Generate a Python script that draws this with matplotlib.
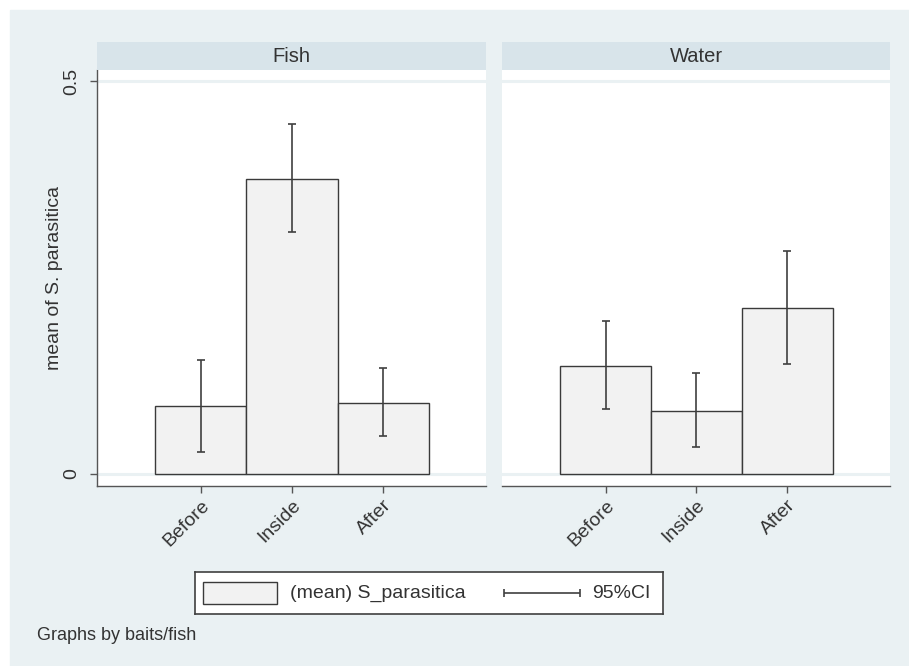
import matplotlib.pyplot as plt
from matplotlib.patches import Rectangle

plt.rcParams["font.family"] = ["Liberation Sans", "DejaVu Sans"]

# data
panels = ["Fish", "Water"]
periods = ["Before", "Inside", "After"]
fish_mean = [0.086, 0.375, 0.090]
fish_lo = [0.028, 0.308, 0.048]
fish_hi = [0.145, 0.445, 0.135]
water_mean = [0.137, 0.080, 0.211]
water_lo = [0.083, 0.034, 0.140]
water_hi = [0.195, 0.128, 0.284]

bg = "#eaf1f3"
strip_col = "#d8e4ea"
ink = "#333333"
W, H = 909, 666

fig = plt.figure(figsize=(W / 100, H / 100), dpi=100, facecolor="white")
fig.patches.append(Rectangle((10 / W, 0), 1 - 10 / W, 1 - 10 / H,
                             transform=fig.transFigure, color=bg, zorder=-10))


def fx(px):
    return px / W


def fy(px):
    return 1 - px / H


panel_x = [(97, 486), (502, 890)]
data = [(fish_mean, fish_lo, fish_hi), (water_mean, water_lo, water_hi)]

for k, name in enumerate(panels):
    x0, x1 = panel_x[k]
    ax = fig.add_axes([fx(x0), fy(486), fx(x1 - x0), fy(70) - fy(486)])
    ax.set_facecolor("white")
    mean, lo, hi = data[k]
    xs = list(range(1, len(periods) + 1))
    for y in (0, 0.5):
        ax.axhline(y, color=bg, lw=2.2, zorder=1)
    ax.bar(xs, mean, width=1.0, color="#f2f2f2", edgecolor="#3a3a3a",
           linewidth=1.0, zorder=2)
    yerr = [[m - l for m, l in zip(mean, lo)], [h - m for m, h in zip(mean, hi)]]
    ax.errorbar(xs, mean, yerr=yerr, fmt="none", ecolor="#404040",
                elinewidth=1.2, capsize=3.2, capthick=1.2, zorder=3)
    ax.set_xlim(-0.14, 4.13)
    ax.set_ylim(-0.0153, 0.514)
    ax.set_xticks(xs)
    ax.set_xticklabels(periods, rotation=45, ha="right", rotation_mode="anchor",
                       fontsize=14, color=ink)
    for s in ("top", "right"):
        ax.spines[s].set_visible(False)
    ax.spines["bottom"].set_color("#555555")
    ax.spines["bottom"].set_linewidth(1.0)
    ax.tick_params(axis="x", length=5, color="#555555", width=1.0, pad=3)
    if k == 0:
        ax.spines["left"].set_color("#555555")
        ax.spines["left"].set_linewidth(1.0)
        ax.set_yticks([0, 0.5])
        ax.set_yticklabels(["0", "0.5"], rotation=90, va="center",
                           fontsize=14, color=ink)
        ax.tick_params(axis="y", length=5, color="#555555", width=1.0, pad=7)
        ax.set_ylabel("mean of S. parasitica", fontsize=14, color=ink)
        ax.yaxis.set_label_coords(-0.087, 0.5)
    else:
        ax.spines["left"].set_visible(False)
        ax.set_yticks([])

    # strip header
    sx = fig.add_axes([fx(x0), fy(70), fx(x1 - x0), fy(42) - fy(70)])
    sx.set_facecolor(strip_col)
    sx.set_xticks([])
    sx.set_yticks([])
    for s in sx.spines.values():
        s.set_visible(False)
    sx.text(0.5, 0.5, name, ha="center", va="center", fontsize=14.5,
            color=ink, transform=sx.transAxes)

# legend box drawn by hand
lx0, ly_top, lx1, ly_bot = 195, 572, 663, 614
lg = fig.add_axes([fx(lx0), fy(ly_bot), fx(lx1 - lx0), fy(ly_top) - fy(ly_bot)])
lg.set_xlim(0, lx1 - lx0)
lg.set_ylim(0, ly_bot - ly_top)
lg.set_facecolor("white")
lg.set_xticks([])
lg.set_yticks([])
for s in lg.spines.values():
    s.set_color("#404040")
    s.set_linewidth(1.2)
lg.add_patch(Rectangle((8, 10), 74, 22, facecolor="#f2f2f2",
                       edgecolor="#3a3a3a", linewidth=1.0))
lg.text(95, 21, "(mean) S_parasitica", va="center", ha="left",
        fontsize=14, color=ink)
lg.errorbar([347], [21], xerr=[[38], [38]], fmt="none", ecolor="#404040",
            elinewidth=1.2, capsize=3.2, capthick=1.2)
lg.text(397, 21, "95%CI", va="center", ha="left", fontsize=14, color=ink)

fig.text(fx(37), fy(636), "Graphs by baits/fish", va="center", ha="left",
         fontsize=13, color=ink)

fig.savefig("out.png", dpi=100, facecolor=fig.get_facecolor())
